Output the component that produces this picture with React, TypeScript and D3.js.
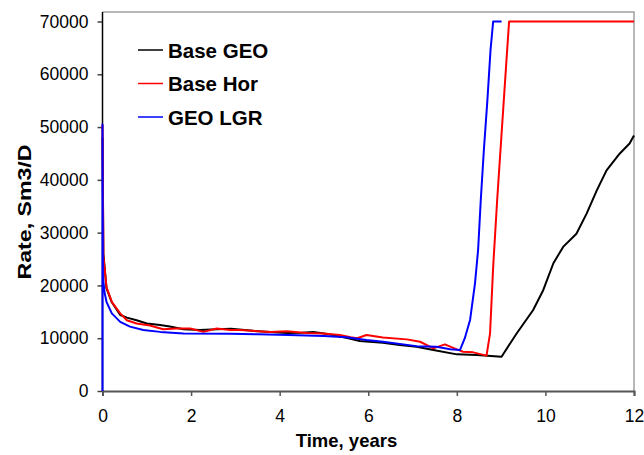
import React, { useEffect, useRef } from "react";
import * as d3 from "d3";

type Pt = [number, number];

const xTicks = [0, 2, 4, 6, 8, 10, 12];
const yTicks = [0, 10000, 20000, 30000, 40000, 50000, 60000, 70000];

const baseGeo: Pt[] = [
  [0, 48000], [0.02, 26000], [0.09, 19500], [0.21, 16800], [0.4, 14400],
  [0.55, 13900], [0.77, 13400], [1.0, 12800], [1.3, 12500], [1.52, 12200],
  [1.83, 11700], [2.2, 11550], [2.58, 11700], [2.9, 11800], [3.4, 11400],
  [3.8, 11200], [4.16, 11000], [4.5, 11050], [4.76, 11200], [5.0, 10900],
  [5.21, 10600], [5.55, 10000], [5.81, 9460], [6.33, 9140], [6.71, 8700],
  [7.09, 8400], [7.47, 7760], [8.0, 6940], [8.45, 6800], [9.01, 6500],
  [9.35, 10900], [9.72, 15300], [9.95, 19100], [10.18, 24200], [10.4, 27300],
  [10.7, 29800], [10.93, 33600], [11.16, 38000], [11.38, 41800], [11.68, 45000],
  [11.9, 46900], [12, 48400],
];

const baseHor: Pt[] = [
  [0, 50500], [0.02, 25500], [0.09, 19700], [0.21, 16900], [0.4, 14700],
  [0.55, 13400], [0.77, 12800], [1.07, 12400], [1.37, 11700], [1.67, 11850],
  [1.98, 11850], [2.28, 11200], [2.58, 11850], [2.88, 11550], [3.1, 11550],
  [3.78, 11200], [4.16, 11300], [4.61, 11000], [4.98, 10900], [5.36, 10600],
  [5.6, 10200], [5.75, 10000], [5.96, 10600], [6.33, 10150], [6.87, 9780],
  [7.17, 9330], [7.47, 8080], [7.73, 8830], [8.0, 7890], [8.14, 7440],
  [8.37, 7320], [8.67, 6700], [8.75, 10900], [8.82, 23500], [8.91, 36100],
  [9.01, 48700], [9.11, 61300], [9.18, 70000], [12, 70000],
];

const geoLgr: Pt[] = [
  [0, 0], [0, 50500], [0.01, 21500], [0.05, 18500], [0.09, 16900], [0.21, 14700],
  [0.4, 13100], [0.62, 12200], [0.92, 11550], [1.3, 11200], [1.83, 10900],
  [2.88, 10850], [3.5, 10750], [4.2, 10600], [5.0, 10400], [5.5, 10200],
  [5.96, 9650], [6.33, 9330], [7.09, 8500], [7.54, 8400], [7.85, 7900],
  [8.07, 7760], [8.18, 10000], [8.3, 13500], [8.41, 20400], [8.48, 26700],
  [8.54, 36100], [8.61, 45600], [8.69, 55100], [8.76, 64500], [8.82, 70000],
  [9.01, 70000],
];

const series = [
  { name: "Base GEO", color: "#000000", data: baseGeo },
  { name: "Base Hor", color: "#ff0000", data: baseHor },
  { name: "GEO LGR", color: "#0000ff", data: geoLgr },
];

export default function App() {
  const ref = useRef<SVGSVGElement>(null);

  useEffect(() => {
    const svg = d3.select(ref.current);
    svg.selectAll("*").remove();

    const left = 102.5;
    const right = 634;
    const top = 12;
    const bottom = 391;
    const font = "Liberation Sans, Arial, sans-serif";

    const x = d3.scaleLinear().domain([0, 12]).range([left, right]);
    const y = d3.scaleLinear().domain([0, 70000]).range([bottom, 21.5]);

    // frame (top and right in light grey)
    svg
      .append("path")
      .attr("d", `M${left},${top}H${right}V${bottom}`)
      .attr("fill", "none")
      .attr("stroke", "#a0a0a0")
      .attr("stroke-width", 1.5);

    // y axis
    const yAxis = svg
      .append("g")
      .attr("transform", `translate(${left},0)`)
      .call(d3.axisLeft(y).tickValues(yTicks).tickSize(5).tickPadding(9).tickFormat(d3.format("d")));
    yAxis.select(".domain").remove();
    yAxis.selectAll(".tick line").attr("stroke", "#444").attr("stroke-width", 1.5);
    yAxis
      .selectAll(".tick text")
      .attr("font-family", font)
      .attr("font-size", 17.5)
      .attr("fill", "#000");

    // x axis
    const xAxis = svg
      .append("g")
      .attr("transform", `translate(0,${bottom})`)
      .call(d3.axisBottom(x).tickValues(xTicks).tickSize(5).tickPadding(14).tickFormat(d3.format("d")));
    xAxis.select(".domain").attr("stroke", "#555").attr("stroke-width", 2);
    xAxis.selectAll(".tick line").attr("stroke", "#555").attr("stroke-width", 1.5);
    xAxis
      .selectAll(".tick text")
      .attr("font-family", font)
      .attr("font-size", 17.5)
      .attr("fill", "#000");

    // left axis line in black
    svg
      .append("line")
      .attr("x1", left)
      .attr("x2", left)
      .attr("y1", top)
      .attr("y2", bottom)
      .attr("stroke", "#000")
      .attr("stroke-width", 1.5);

    // curves
    const line = d3
      .line<Pt>()
      .x((d) => x(d[0]))
      .y((d) => y(d[1]));

    series.forEach((s) => {
      svg
        .append("path")
        .datum(s.data)
        .attr("d", line)
        .attr("fill", "none")
        .attr("stroke", s.color)
        .attr("stroke-width", 2)
        .attr("stroke-linejoin", "round");
    });

    // legend
    const legend = svg.append("g").attr("transform", "translate(138,50)");
    series.forEach((s, i) => {
      const g = legend.append("g").attr("transform", `translate(0,${i * 33.5})`);
      g.append("line")
        .attr("x1", 0)
        .attr("x2", 25)
        .attr("stroke", s.color)
        .attr("stroke-width", 1.5);
      g.append("text")
        .attr("x", 30)
        .attr("y", 7.5)
        .attr("font-family", font)
        .attr("font-weight", "bold")
        .attr("font-size", 20.5)
        .text(s.name);
    });

    // axis titles
    svg
      .append("text")
      .attr("x", 346.5)
      .attr("y", 447)
      .attr("text-anchor", "middle")
      .attr("font-family", font)
      .attr("font-weight", "bold")
      .attr("font-size", 18.5)
      .text("Time, years");

    svg
      .append("text")
      .attr("transform", "translate(31,212) rotate(-90)")
      .attr("text-anchor", "middle")
      .attr("font-family", font)
      .attr("font-weight", "bold")
      .attr("font-size", 19)
      .attr("textLength", 135)
      .attr("lengthAdjust", "spacingAndGlyphs")
      .text("Rate, Sm3/D");
  }, []);

  return (
    <svg
      ref={ref}
      width={644}
      height={455}
      style={{ position: "absolute", left: 0, top: 0, background: "#fff" }}
    />
  );
}
